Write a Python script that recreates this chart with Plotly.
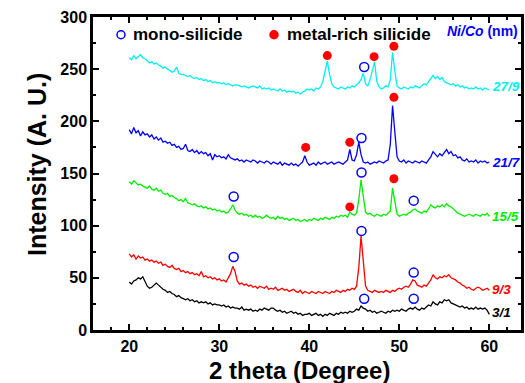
import numpy as np
import plotly.graph_objects as go

# 2-theta grid (degrees), 0.25 deg step from 20 to 60
two_theta = np.round(np.arange(20.0, 60.001, 0.25), 2)

int_3_1 = [
    46, 44, 47, 48, 50, 49, 51, 47,
    42, 40, 41, 43, 45, 43, 41, 39,
    38, 36, 37, 35, 34, 32, 33, 31,
    30, 29, 30, 28, 29, 27, 28, 26,
    27, 26, 27, 25, 26, 24, 25, 24,
    24, 23, 24, 22, 23, 21, 22, 21,
    21, 20, 22, 19, 20, 19, 20, 18,
    19, 18, 20, 19, 21, 20, 19, 21,
    21, 19, 18, 19, 17, 18, 16, 17,
    18, 16, 17, 15, 16, 14, 15, 15,
    16, 14, 15, 16, 14, 15, 13, 15,
    14, 16, 15, 14, 16, 15, 17, 16,
    17, 16, 18, 17, 18, 20, 19, 23,
    21, 20, 18, 19, 17, 18, 16, 17,
    18, 17, 16, 18, 17, 19, 18, 19,
    18, 20, 19, 18, 20, 21, 20, 22,
    20, 19, 21, 20, 22, 24, 23, 27,
    25, 24, 27, 26, 29, 28, 29, 26,
    25, 24, 23, 22, 23, 21, 22, 20,
    21, 20, 22, 20, 21, 20, 21, 19,
    15,
]

int_9_3 = [
    73, 70, 72, 68, 71, 69, 70, 67,
    68, 66, 67, 65, 66, 64, 65, 62,
    63, 61, 60, 62, 59, 58, 59, 56,
    57, 55, 56, 54, 55, 53, 54, 52,
    56, 51, 52, 50, 51, 49, 50, 48,
    49, 47, 48, 46, 50, 54, 61, 56,
    47, 44, 45, 43, 44, 42, 43, 41,
    42, 40, 42, 41, 40, 42, 39, 40,
    39, 41, 38, 39, 40, 38, 39, 37,
    38, 39, 37, 36, 38, 35, 37, 36,
    35, 37, 36, 35, 37, 36, 35, 37,
    36, 35, 37, 36, 38, 37, 36, 38,
    37, 39, 38, 40, 39, 42, 60, 90,
    62, 42, 38, 37, 36, 38, 37, 36,
    37, 36, 38, 37, 36, 38, 37, 39,
    40, 39, 41, 42, 41, 44, 48, 47,
    43, 42, 41, 43, 42, 45, 48, 53,
    50, 49, 51, 50, 52, 51, 53, 50,
    49, 48, 46, 45, 43, 42, 40, 41,
    39, 38, 40, 41, 40, 38, 39, 40,
    38,
]

int_15_5 = [
    142, 140, 143, 141, 139, 140, 138, 137,
    136, 138, 135, 134, 136, 133, 134, 131,
    130, 131, 128, 129, 127, 126, 124, 125,
    123, 126, 122, 121, 120, 121, 119, 118,
    119, 117, 118, 116, 117, 115, 116, 114,
    115, 113, 114, 112, 113, 116, 120, 115,
    112, 111, 112, 110, 111, 109, 110, 108,
    110, 108, 109, 107, 108, 110, 108, 107,
    108, 106, 109, 107, 108, 106, 107, 105,
    106, 107, 105, 106, 104, 105, 106, 104,
    106, 105, 107, 106, 105, 107, 106, 108,
    107, 106, 108, 107, 109, 108, 110, 109,
    110, 108, 113, 111, 110, 112, 125, 144,
    128, 113, 111, 112, 110, 109, 111, 110,
    109, 111, 110, 112, 114, 136, 122, 111,
    109, 110, 111, 110, 112, 113, 115, 116,
    114, 113, 112, 114, 113, 116, 120, 118,
    117, 119, 118, 120, 118, 121, 119, 118,
    116, 114, 112, 111, 110, 109, 110, 111,
    110, 109, 111, 110, 109, 111, 110, 112,
    109,
]

int_21_7 = [
    192, 188, 194, 189, 191, 186, 190, 187,
    188, 185, 187, 183, 185, 182, 184, 180,
    181, 179, 180, 177, 178, 175, 176, 173,
    174, 178, 172, 171, 173, 170, 172, 169,
    171, 169, 170, 167, 169, 163, 168, 166,
    167, 165, 166, 164, 168, 165, 164, 163,
    164, 162, 163, 161, 163, 162, 161, 163,
    162, 160, 162, 161, 160, 162, 161, 159,
    161, 160, 159, 161, 158, 160, 159, 158,
    160, 158, 159, 157, 159, 161, 167, 161,
    158, 159, 160, 158, 161, 159, 160, 161,
    159, 160, 161, 159, 160, 161, 160, 159,
    161, 163, 173, 163, 162, 168, 180, 168,
    161, 160, 161, 159, 160, 161, 160, 162,
    161, 160, 162, 163, 178, 215, 190, 166,
    162, 161, 163, 160, 162, 161, 160, 162,
    161, 160, 162, 161, 160, 163, 166, 171,
    168, 166, 169, 167, 170, 173, 169, 171,
    167, 168, 165, 166, 163, 162, 164, 161,
    162, 161, 163, 160, 162, 161, 162, 160,
    161,
]

int_27_9 = [
    261, 259, 263, 260, 262, 264, 261, 260,
    258, 256, 257, 255, 256, 254, 253, 251,
    252, 250, 249, 247, 248, 252, 246, 245,
    245, 244, 243, 244, 242, 241, 242, 240,
    241, 239, 240, 238, 239, 237, 238, 237,
    237, 236, 237, 235, 236, 235, 234, 235,
    235, 234, 233, 234, 233, 232, 233, 234,
    233, 232, 234, 231, 232, 231, 232, 230,
    231, 230, 229, 231, 229, 230, 228, 229,
    228, 229, 227, 228, 226, 228, 229, 231,
    230, 231, 229, 232, 231, 233, 238, 248,
    258, 245, 236, 233, 232, 231, 233, 232,
    231, 233, 232, 234, 233, 235, 237, 240,
    246, 236, 234, 240, 250, 257, 238, 233,
    231, 232, 234, 233, 240, 266, 248, 234,
    232, 231, 233, 232, 231, 233, 232, 234,
    233, 232, 234, 236, 235, 238, 242, 244,
    241, 243, 240, 242, 238, 237, 236, 235,
    236, 234, 235, 233, 234, 232, 233, 231,
    232, 231, 233, 231, 232, 230, 232, 231,
    230,
]

sample_labels = ["3/1", "9/3", "15/5", "21/7", "27/9"]
sample_colors = ["#000000", "#FF0000", "#00EE00", "#0000FF", "#00F0F0"]
sample_label_y = [17, 39, 109, 161, 233]
series = [int_3_1, int_9_3, int_15_5, int_21_7, int_27_9]

# phase markers (peak positions and marker heights)
mono_x = [46.1, 51.6, 31.6, 45.8, 51.6, 31.6, 45.8, 51.6, 45.8, 46.1]
mono_y = [30, 30, 70, 95, 55, 128, 151, 124, 184, 252]
metal_x = [44.5, 49.4, 39.6, 44.5, 49.4, 42.0, 47.2, 49.4]
metal_y = [118, 145, 175, 180, 223, 263, 262, 272]

legend_names = ["mono-silicide", "metal-rich silicide"]

FONT = "Arial, Liberation Sans, sans-serif"
BLUE = "#0000FF"
RED = "#FF0000"

fig = go.Figure()
for ys, col in zip(series, sample_colors):
    fig.add_trace(go.Scatter(x=two_theta, y=ys, mode="lines",
                             line=dict(color=col, width=1.3),
                             showlegend=False, hoverinfo="skip"))

fig.add_trace(go.Scatter(x=mono_x, y=mono_y, mode="markers", name=legend_names[0],
                         showlegend=False,
                         marker=dict(symbol="circle-open", size=9, color=BLUE,
                                     line=dict(width=1.5, color=BLUE))))
fig.add_trace(go.Scatter(x=metal_x, y=metal_y, mode="markers", name=legend_names[1],
                         showlegend=False,
                         marker=dict(symbol="circle", size=9, color=RED)))

# hand-built legend (tighter symbol/text spacing than plotly's legend allows)
legend_y = 283
for name, sym_x, txt_x, open_sym, col in [
        (legend_names[0], 19.08, 0.089, True, BLUE),
        (legend_names[1], 36.08, 0.449, False, RED)]:
    fig.add_shape(type="circle", xref="x", yref="y", xsizemode="pixel", ysizemode="pixel",
                  xanchor=sym_x, yanchor=legend_y, x0=-4, x1=4, y0=-4, y1=4,
                  line=dict(color=col, width=1.5),
                  fillcolor=("rgba(0,0,0,0)" if open_sym else col))
    fig.add_annotation(x=txt_x, xref="paper", y=legend_y, yref="y", text="<b>%s</b>" % name,
                       showarrow=False, xanchor="left", yanchor="middle",
                       font=dict(family=FONT, size=17, color="black"))

for lab, col, yv in zip(sample_labels, sample_colors, sample_label_y):
    fig.add_annotation(x=60.2, y=yv, text="<b><i>%s</i></b>" % lab, showarrow=False,
                       xanchor="left", yanchor="middle", borderpad=0,
                       font=dict(family=FONT, size=13.5, color=col))

fig.add_annotation(x=0.998, xref="paper", y=287, text="<b><i>Ni/Co</i> (nm)</b>",
                   showarrow=False, xanchor="right", yanchor="middle",
                   font=dict(family=FONT, size=14, color=BLUE))

# axis titles placed as annotations to match the reference's off-centre positions
fig.add_annotation(x=0.4836, xref="paper", y=-0.128, yref="paper",
                   text="<b>2 theta (Degree)</b>", showarrow=False,
                   xanchor="center", yanchor="middle",
                   font=dict(family=FONT, size=24, color="black"))
fig.add_annotation(x=(37 - 93) / 428.0, xref="paper", y=0.527, yref="paper",
                   text="<b>Intensity (A. U.)</b>", showarrow=False, textangle=-90,
                   xanchor="center", yanchor="middle",
                   font=dict(family=FONT, size=25, color="black"))

axis_common = dict(showline=True, linecolor="black", linewidth=2.5, mirror="allticks",
                   ticks="inside", ticklen=6, tickwidth=2, tickcolor="black",
                   showgrid=False, zeroline=False,
                   tickfont=dict(family=FONT, size=16, color="black", weight="bold"))

fig.update_xaxes(range=[15.97, 63.52], tickmode="array", tickvals=[20, 30, 40, 50, 60],
                 minor=dict(ticks="inside", ticklen=3, tickwidth=2, tickcolor="black",
                            dtick=2, tick0=0, showgrid=False),
                 **axis_common)
fig.update_yaxes(range=[0, 300], tickmode="array", tickvals=[0, 50, 100, 150, 200, 250, 300],
                 minor=dict(ticks="inside", ticklen=3, tickwidth=2, tickcolor="black",
                            dtick=25, tick0=0, showgrid=False),
                 **axis_common)

fig.update_layout(
    width=525, height=383,
    margin=dict(l=93, r=4, t=17, b=53, autoexpand=False),
    paper_bgcolor="white", plot_bgcolor="white",
    showlegend=False,
)

fig.write_html("out.html", config={"displayModeBar": False},
               post_script="document.body.style.margin='0';document.body.style.overflow='hidden';")
